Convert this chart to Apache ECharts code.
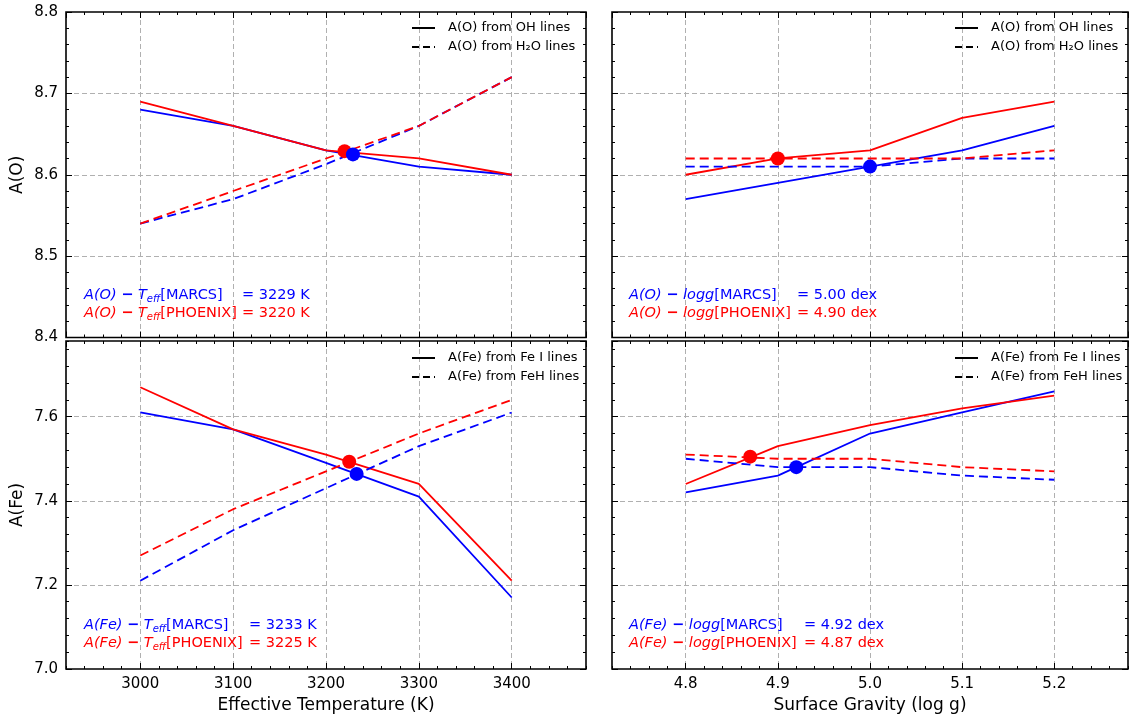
<!DOCTYPE html>
<html>
<head>
<meta charset="utf-8">
<script src="https://cdn.jsdelivr.net/npm/echarts@6/dist/echarts.min.js"></script>
<style>
  html, body { margin: 0; padding: 0; background: #fff; }
  #chart { width: 1129px; height: 720px; }
</style>
</head>
<body>
<div id="chart"></div>
<script>
// Model grid points
const teff = [3000, 3100, 3200, 3300, 3400];
const logg = [4.8, 4.9, 5.0, 5.1, 5.2];

// Oxygen abundance versus effective temperature
const oTeffMarcsOH     = [8.68, 8.66, 8.63, 8.61, 8.60];
const oTeffPhoenixOH   = [8.69, 8.66, 8.63, 8.62, 8.60];
const oTeffMarcsH2O    = [8.54, 8.57, 8.613, 8.66, 8.72];
const oTeffPhoenixH2O  = [8.54, 8.58, 8.62, 8.66, 8.72];
const oTeffCrossMarcs   = [3229, 8.625];
const oTeffCrossPhoenix = [3220, 8.629];

// Oxygen abundance versus surface gravity
const oLoggMarcsOH     = [8.57, 8.59, 8.61, 8.63, 8.66];
const oLoggPhoenixOH   = [8.60, 8.62, 8.63, 8.67, 8.69];
const oLoggMarcsH2O    = [8.61, 8.61, 8.61, 8.62, 8.62];
const oLoggPhoenixH2O  = [8.62, 8.62, 8.62, 8.62, 8.63];
const oLoggCrossMarcs   = [5.00, 8.61];
const oLoggCrossPhoenix = [4.90, 8.62];

// Iron abundance versus effective temperature
const feTeffMarcsFeI    = [7.61, 7.57, 7.49, 7.41, 7.17];
const feTeffPhoenixFeI  = [7.67, 7.57, 7.51, 7.44, 7.21];
const feTeffMarcsFeH    = [7.21, 7.33, 7.43, 7.53, 7.61];
const feTeffPhoenixFeH  = [7.27, 7.38, 7.47, 7.56, 7.64];
const feTeffCrossMarcs   = [3233, 7.464];
const feTeffCrossPhoenix = [3225, 7.493];

// Iron abundance versus surface gravity
const feLoggMarcsFeI    = [7.42, 7.46, 7.56, 7.61, 7.66];
const feLoggPhoenixFeI  = [7.44, 7.53, 7.58, 7.62, 7.65];
const feLoggMarcsFeH    = [7.50, 7.48, 7.48, 7.46, 7.45];
const feLoggPhoenixFeH  = [7.51, 7.50, 7.50, 7.48, 7.47];
const feLoggCrossMarcs   = [4.92, 7.48];
const feLoggCrossPhoenix = [4.87, 7.505];

const BLUE = '#0000ff';
const RED = '#ff0000';
const FONT = '"DejaVu Sans", sans-serif';

const grids = [
  { left: 66,  top: 12,  width: 520, height: 325.5 },
  { left: 612, top: 12,  width: 516, height: 325.5 },
  { left: 66,  top: 341, width: 520, height: 328 },
  { left: 612, top: 341, width: 516, height: 328 }
].map(g => Object.assign(g, {
  show: true, borderColor: '#000', borderWidth: 1.6, backgroundColor: 'transparent'
}));

const tickLabel = { color: '#000', fontSize: 15, fontFamily: FONT };
const gridLine = { show: true, showMinLine: false, showMaxLine: false,
  lineStyle: { color: '#b0b0b0', width: 1, type: [5, 3] } };

// Four axes per side of each panel: major + minor ticks, bottom/top (or left/right)
function axesFor(dim, g, min, max, minorStep, opt) {
  const sides = dim === 'x' ? ['bottom', 'top'] : ['left', 'right'];
  const list = [];
  sides.forEach((pos, si) => {
    const major = {
      type: 'value', gridIndex: g, position: pos, min, max,
      axisLine: { show: false },
      axisTick: { show: true, inside: true, length: 6, lineStyle: { color: '#000', width: 1 } },
      axisLabel: { show: false },
      splitLine: { show: false }
    };
    if (si === 0) {
      major.splitLine = gridLine;
      if (opt.labels) {
        major.axisLabel = Object.assign({ show: true, margin: 8,
          showMinLabel: opt.showMin, showMaxLabel: opt.showMax,
          formatter: opt.fmt }, tickLabel);
      }
      if (opt.name) {
        major.name = opt.name;
        major.nameLocation = 'middle';
        major.nameGap = opt.nameGap;
        major.nameTextStyle = { color: '#000', fontSize: 17, fontFamily: FONT };
      }
    }
    const minor = {
      type: 'value', gridIndex: g, position: pos, min, max, interval: minorStep,
      axisLine: { show: false },
      axisTick: { show: true, inside: true, length: 3, lineStyle: { color: '#000', width: 1 } },
      axisLabel: { show: false },
      splitLine: { show: false }
    };
    list.push(major, minor);
  });
  return list;
}

const fmt1 = v => v.toFixed(1);
const fmt0 = v => String(Math.round(v));

const xAxis = [].concat(
  axesFor('x', 0, 2920, 3480, 20, { labels: false }),
  axesFor('x', 1, 4.72, 5.28, 0.02, { labels: false }),
  axesFor('x', 2, 2920, 3480, 20, { labels: true, showMin: false, showMax: false, fmt: fmt0,
    name: 'Effective Temperature (K)', nameGap: 28 }),
  axesFor('x', 3, 4.72, 5.28, 0.02, { labels: true, showMin: false, showMax: false, fmt: fmt1,
    name: 'Surface Gravity (log g)', nameGap: 28 })
);
const yAxis = [].concat(
  axesFor('y', 0, 8.4, 8.8, 0.02, { labels: true, showMin: true, showMax: true, fmt: fmt1,
    name: 'A(O)', nameGap: 40 }),
  axesFor('y', 1, 8.4, 8.8, 0.02, { labels: false }),
  axesFor('y', 2, 7.0, 7.78, 0.04, { labels: true, showMin: true, showMax: false, fmt: fmt1,
    name: 'A(Fe)', nameGap: 40 }),
  axesFor('y', 3, 7.0, 7.78, 0.04, { labels: false })
);

function line(g, xs, ys, color, dashed) {
  return {
    type: 'line', xAxisIndex: 4 * g, yAxisIndex: 4 * g,
    data: xs.map((x, i) => [x, ys[i]]),
    symbol: 'none', silent: true, z: 3,
    lineStyle: { color, width: 1.8, type: dashed ? [9, 5] : 'solid' },
    itemStyle: { color }
  };
}
function dot(g, pt, color) {
  return {
    type: 'scatter', xAxisIndex: 4 * g, yAxisIndex: 4 * g,
    data: [pt], symbol: 'circle', symbolSize: 14, silent: true, z: 5,
    itemStyle: { color, opacity: 1 }
  };
}

const series = [
  line(0, teff, oTeffMarcsOH, BLUE, false),
  line(0, teff, oTeffPhoenixOH, RED, false),
  line(0, teff, oTeffMarcsH2O, BLUE, true),
  line(0, teff, oTeffPhoenixH2O, RED, true),
  dot(0, oTeffCrossPhoenix, RED),
  dot(0, oTeffCrossMarcs, BLUE),

  line(1, logg, oLoggMarcsOH, BLUE, false),
  line(1, logg, oLoggPhoenixOH, RED, false),
  line(1, logg, oLoggMarcsH2O, BLUE, true),
  line(1, logg, oLoggPhoenixH2O, RED, true),
  dot(1, oLoggCrossPhoenix, RED),
  dot(1, oLoggCrossMarcs, BLUE),

  line(2, teff, feTeffMarcsFeI, BLUE, false),
  line(2, teff, feTeffPhoenixFeI, RED, false),
  line(2, teff, feTeffMarcsFeH, BLUE, true),
  line(2, teff, feTeffPhoenixFeH, RED, true),
  dot(2, feTeffCrossPhoenix, RED),
  dot(2, feTeffCrossMarcs, BLUE),

  line(3, logg, feLoggMarcsFeI, BLUE, false),
  line(3, logg, feLoggPhoenixFeI, RED, false),
  line(3, logg, feLoggMarcsFeH, BLUE, true),
  line(3, logg, feLoggPhoenixFeH, RED, true),
  dot(3, feLoggCrossPhoenix, RED),
  dot(3, feLoggCrossMarcs, BLUE)
];

// Legend boxes (line sample + caption) in the upper right of each panel
function legend(xLine, xText, y1, y2, text1, text2) {
  const els = [];
  [[y1, text1, null], [y2, text2, [7, 4]]].forEach(([y, txt, dash]) => {
    els.push({
      type: 'line', silent: true, z: 10,
      shape: { x1: xLine, y1: y, x2: xLine + 23, y2: y },
      style: { stroke: '#000', lineWidth: 2, lineDash: dash || null }
    });
    els.push({
      type: 'text', silent: true, z: 10,
      style: { x: xText, y: y, text: txt, fill: '#000',
        font: '13px ' + FONT, textVerticalAlign: 'middle', textAlign: 'left' }
    });
  });
  return els;
}

const richStyles = color => ({
  it: { fontStyle: 'italic', fontSize: 14.5, fontFamily: FONT, color, lineHeight: 18 },
  sub: { fontStyle: 'italic', fontSize: 10, fontFamily: FONT, color, lineHeight: 7, verticalAlign: 'bottom' },
  mi: { fontWeight: 'bold', fontSize: 14.5, fontFamily: FONT, color, lineHeight: 18 },
  n: { fontSize: 14.5, fontFamily: FONT, color, lineHeight: 18 }
});

// Two-part annotation: "<quantity> − <parameter>[model]" and "= value"
function note(x, xEq, y, elem, param, model, value, color) {
  const paramTok = param === 'teff' ? '{it|T}{sub|eff}' : '{it|logg}';
  return [
    {
      type: 'text', silent: true, z: 10,
      style: { x, y, text: `{it|${elem}} {mi|−} ${paramTok}{n|[${model}]}`,
        rich: richStyles(color), fill: color, font: '14.5px ' + FONT,
        textVerticalAlign: 'middle', textAlign: 'left' }
    },
    {
      type: 'text', silent: true, z: 10,
      style: { x: xEq, y, text: '= ' + value, fill: color, font: '14.5px ' + FONT,
        textVerticalAlign: 'middle', textAlign: 'left' }
    }
  ];
}

const graphic = [].concat(
  legend(412, 448, 28, 47, 'A(O) from OH lines', 'A(O) from H\u2082O lines'),
  legend(955, 991, 28, 47, 'A(O) from OH lines', 'A(O) from H\u2082O lines'),
  legend(412, 448, 358, 377, 'A(Fe) from Fe I lines', 'A(Fe) from FeH lines'),
  legend(955, 991, 358, 377, 'A(Fe) from Fe I lines', 'A(Fe) from FeH lines'),

  note(84, 242, 295, 'A(O)', 'teff', 'MARCS', oTeffCrossMarcs[0] + ' K', BLUE),
  note(84, 242, 313, 'A(O)', 'teff', 'PHOENIX', oTeffCrossPhoenix[0] + ' K', RED),
  note(629, 797, 295, 'A(O)', 'logg', 'MARCS', oLoggCrossMarcs[0].toFixed(2) + ' dex', BLUE),
  note(629, 797, 313, 'A(O)', 'logg', 'PHOENIX', oLoggCrossPhoenix[0].toFixed(2) + ' dex', RED),
  note(84, 249, 625, 'A(Fe)', 'teff', 'MARCS', feTeffCrossMarcs[0] + ' K', BLUE),
  note(84, 249, 643, 'A(Fe)', 'teff', 'PHOENIX', feTeffCrossPhoenix[0] + ' K', RED),
  note(629, 804, 625, 'A(Fe)', 'logg', 'MARCS', feLoggCrossMarcs[0].toFixed(2) + ' dex', BLUE),
  note(629, 804, 643, 'A(Fe)', 'logg', 'PHOENIX', feLoggCrossPhoenix[0].toFixed(2) + ' dex', RED)
);

const chart = echarts.init(document.getElementById('chart'), null, { renderer: 'canvas' });
chart.setOption({
  animation: false,
  backgroundColor: '#fff',
  textStyle: { fontFamily: FONT },
  grid: grids,
  xAxis,
  yAxis,
  series,
  graphic
});
</script>
</body>
</html>
